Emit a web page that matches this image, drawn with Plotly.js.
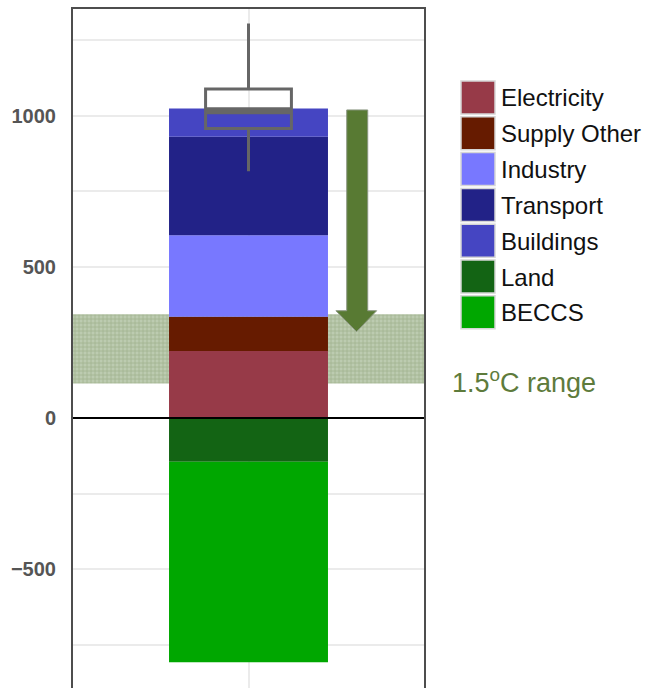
<!DOCTYPE html>
<html>
<head>
<meta charset="utf-8">
<script src="https://cdn.plot.ly/plotly-3.0.1.min.js"></script>
<style>html,body{margin:0;padding:0;background:#fff;}#chart{width:650px;height:688px;}</style>
</head>
<body>
<div id="chart"></div>
<script>
// ---- data ----
const categories = ['Electricity', 'Supply Other', 'Industry', 'Transport', 'Buildings', 'Land', 'BECCS'];
const values = [222, 113, 270, 325, 94, -144, -663];
const colors = ['#973A48', '#661B00', '#7878FF', '#222287', '#4545C2', '#136414', '#00A700'];
const boxStats = {lowerfence: [816], q1: [958], median: [1016], q3: [1088], upperfence: [1305]};
const rangeLow = [114];
const rangeHigh = [343];
const arrowFrom = [1019];
const arrowTo = [286];
const rangeLabel = '1.5<sup>o</sup>C range';
const yTicks = [-500, 0, 500, 1000];
const yTickText = ['\u2212500', '0', '500', '1000'];

// ---- layout geometry helpers (pixels -> paper) ----
const W = 650, H = 688;
const M = {l: 73, r: 226, t: 9, b: 0};
const pw = W - M.l - M.r, ph = H - M.t - M.b;
const px = x => (x - M.l) / pw;
const py = y => (H - M.b - y) / ph;

const traces = [];
traces.push({
  type: 'bar', x: [0], y: [rangeHigh[0] - rangeLow[0]], base: rangeLow, width: 2.4,
  marker: {color: '#bccbb0', line: {width: 0},
    pattern: {shape: '+', fgcolor: '#9fb28f', bgcolor: '#bccbb0', size: 4, solidity: 0.35}},
  showlegend: false, hoverinfo: 'skip'
});
let posBase = 0, negBase = 0;
categories.forEach((c, i) => {
  const v = values[i];
  let b;
  if (v >= 0) { b = posBase; posBase += v; } else { b = negBase; negBase += v; }
  traces.push({
    type: 'bar', name: c, x: [0], y: [v], base: [b], width: 1,
    marker: {color: colors[i], line: {width: 0}}, showlegend: false
  });
});
traces.push({
  type: 'box', x: [0], q1: boxStats.q1, median: boxStats.median, q3: boxStats.q3,
  lowerfence: boxStats.lowerfence, upperfence: boxStats.upperfence,
  width: 0.54, whiskerwidth: 0, fillcolor: 'rgba(0,0,0,0)',
  line: {color: '#666666', width: 3}, showlegend: false, hoverinfo: 'skip'
});

const shapes = [];
shapes.push({type: 'line', xref: 'paper', x0: 0, x1: 1, yref: 'y', y0: 0, y1: 0,
  line: {color: '#000', width: 2}, layer: 'above'});
shapes.push({type: 'line', xref: 'x', x0: -0.27, x1: 0.27, yref: 'y',
  y0: boxStats.median[0], y1: boxStats.median[0], line: {color: '#666666', width: 7}, layer: 'above'});
const sx0 = 0.618, sx1 = 0.750, hx0 = 0.55, hx1 = 0.806, tx = 0.68;
const headTop = arrowTo[0] + 69;
shapes.push({type: 'path', xref: 'x', yref: 'y',
  path: `M ${sx0},${arrowFrom[0]} L ${sx1},${arrowFrom[0]} L ${sx1},${headTop} L ${hx1},${headTop} L ${tx},${arrowTo[0]} L ${hx0},${headTop} L ${sx0},${headTop} Z`,
  fillcolor: '#587A33', line: {color: '#8a9680', width: 1}, layer: 'above'});

const annotations = [];
categories.forEach((c, i) => {
  const top = 81 + i * 35.8;
  shapes.push({type: 'rect', xref: 'paper', yref: 'paper',
    x0: px(461), x1: px(495), y0: py(top), y1: py(top + 33),
    fillcolor: colors[i], line: {color: '#d6d6d6', width: 1.5}});
  annotations.push({xref: 'paper', yref: 'paper', x: px(499), y: py(top + 17),
    xanchor: 'left', yanchor: 'middle', showarrow: false, text: c,
    font: {family: 'Liberation Sans, Arial, sans-serif', size: 24, color: '#111'}});
});
annotations.push({xref: 'paper', yref: 'paper', x: px(450), y: py(381),
  xanchor: 'left', yanchor: 'middle', showarrow: false, text: rangeLabel,
  font: {family: 'Liberation Sans, Arial, sans-serif', size: 27, color: '#5E7B3C'}});

const layout = {
  width: W, height: H, margin: M,
  paper_bgcolor: '#fff', plot_bgcolor: '#fff',
  barmode: 'overlay', showlegend: false,
  font: {family: 'Liberation Sans, Arial, sans-serif'},
  xaxis: {range: [-1.104, 1.104], side: 'top', showline: true, linecolor: '#4d4d4d', linewidth: 2,
    tickvals: [0], showticklabels: false, ticks: '', showgrid: true, gridcolor: '#ebebeb', gridwidth: 2,
    zeroline: false, fixedrange: true},
  yaxis: {range: [-892.5, 1352.8], showline: true, mirror: true, linecolor: '#4d4d4d', linewidth: 2,
    tickvals: yTicks, ticktext: yTickText, ticks: '', ticklabelstandoff: 11,
    tickfont: {size: 20, color: '#555555', weight: 'bold'},
    showgrid: true, gridcolor: '#ebebeb', gridwidth: 2,
    minor: {dtick: 250, showgrid: true, gridcolor: '#ebebeb', gridwidth: 2},
    zeroline: false, fixedrange: true},
  shapes: shapes, annotations: annotations
};
Plotly.newPlot('chart', traces, layout, {displayModeBar: false, staticPlot: true});
</script>
</body>
</html>
